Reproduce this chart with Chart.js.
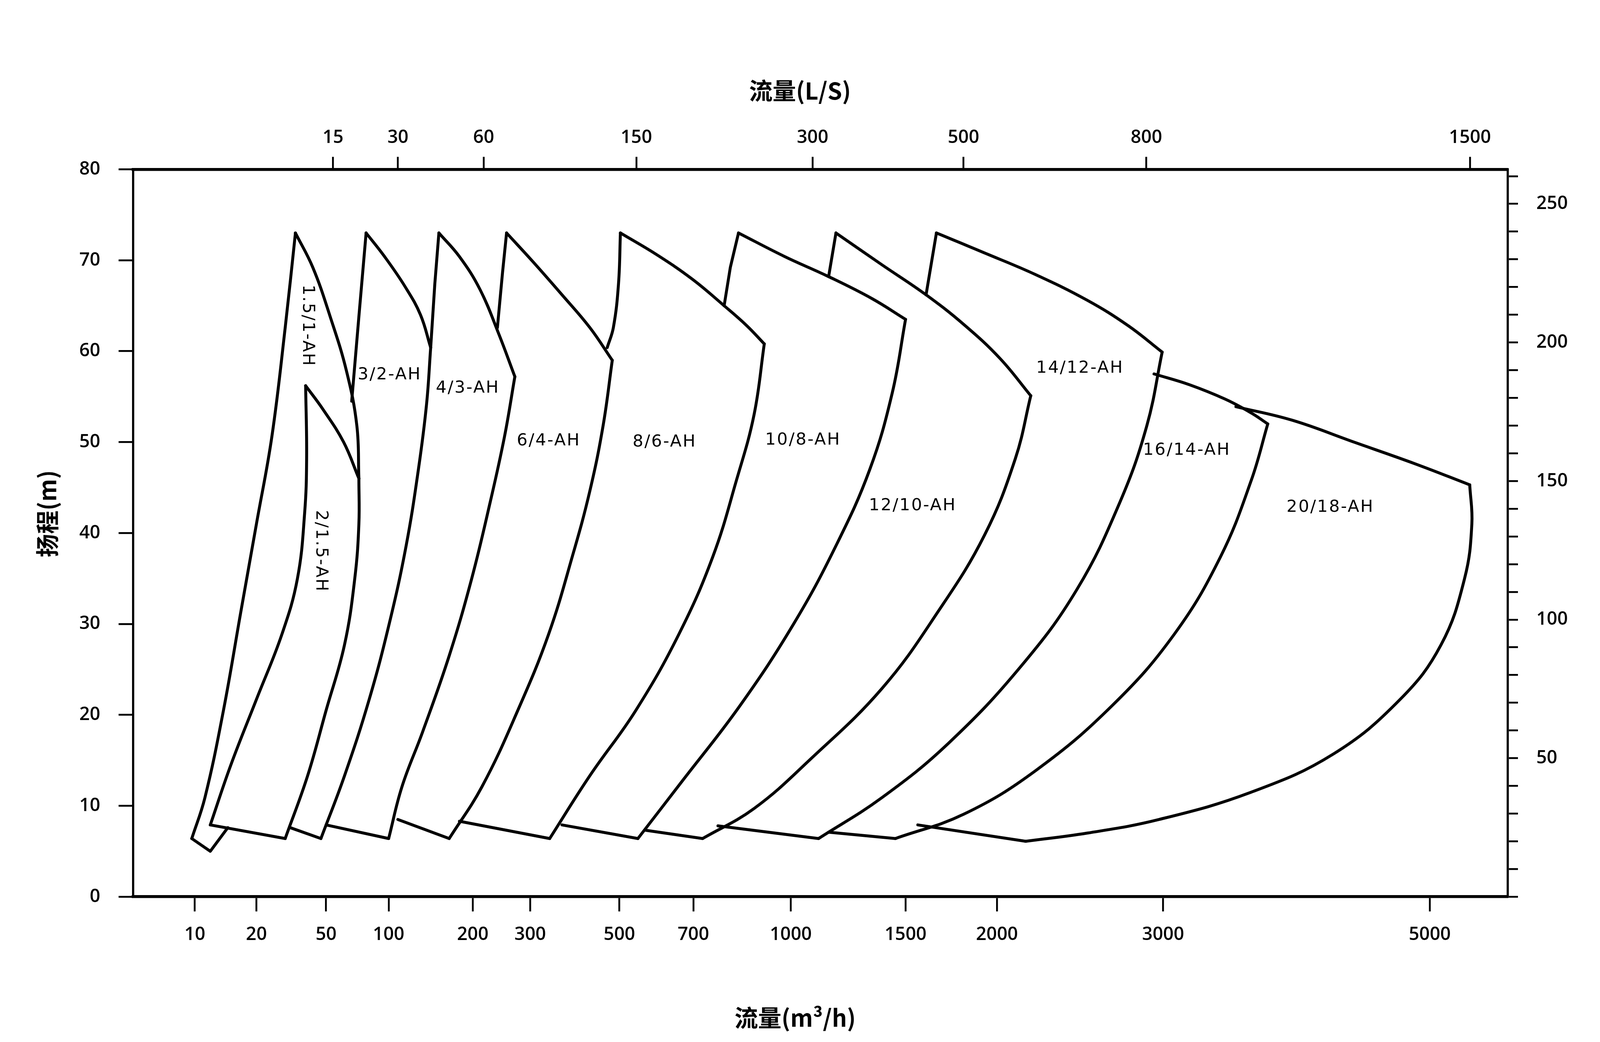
<!DOCTYPE html>
<html><head><meta charset="utf-8">
<script src="https://cdn.jsdelivr.net/npm/chart.js@4/dist/chart.umd.min.js"></script>
<style>html,body{margin:0;padding:0;background:#fff;overflow:hidden}#wrap{position:relative;width:100vw;height:100vh}</style>
</head><body>
<div id="wrap"><canvas id="c"></canvas></div>
<script>
// tick labels
const BOTTOM_TICKS = [10,20,50,100,200,300,500,700,1000,1500,2000,3000,5000]; // m3/h
const TOP_TICKS = [15,30,60,150,300,500,800,1500]; // L/S
const LEFT_TICKS_STEP = 10; // m
const RIGHT_TICKS = [0,10,20,30,40,50,60,70,80,90,100,110,120,130,140,150,160,170,180,190,200,210,220,230,240,250,260];
const RIGHT_LABELS = [50,100,150,200,250];

// curves: [flow m3/h, head m]
const c15_left=[[33.4,73.0],[29.2,62.6],[24.5,50.6],[20,41.0],[16.8,31.4],[13.8,20.5],[11.2,10.9],[9.66,6.4]];
const c15_arc=[[33.4,73],[42,69.2],[52.3,63.8],[62.7,57.8],[70.3,51.8],[71.9,46.0]];
const c15_bottom=[[9.66,6.4],[11.9,5.0],[14.5,7.6]];
const c2_top=[[38.2,56.2],[48,53.6],[60.7,50.0],[71.9,46.0]];
const c2_left=[[38.2,56.2],[38.7,48.2],[37.7,42.2],[34.3,35.0],[28.0,28.9],[20,21.7],[15.0,14.5],[11.9,7.9]];
const c2_bottom=[[11.9,7.9],[29.2,6.4]];
const c2_right=[[71.9,46.0],[71.9,41.0],[68.7,35.0],[61.3,27.7],[50,20.5],[39.2,13.3],[29.2,6.4]];
const c3_lefttop=[[77.9,73.0],[71.9,63.8],[66.4,54.5]];
const c3_arc=[[77.9,73],[95.6,70.4],[114.5,67.1],[130,64.0],[141.4,60.4]];
const c3_bottom=[[31.2,7.6],[46.7,6.4]];
const c3_right=[[141.4,60.4],[136.7,54.2],[127.8,47.0],[115.5,38.6],[100.8,30.2],[80.6,21.7],[61.3,13.3],[46.7,6.4]];
const c4_lefttop=[[151.3,73],[146.3,67.4],[141.4,60.4]];
const c4_arc=[[151.3,73],[179.2,70.4],[210.4,66.8],[239.7,62.0],[269.2,57.2]];
const c4_bottom=[[50,7.9],[100,6.4]];
const c4_right=[[269.2,57.2],[250.2,50.6],[226.2,43.4],[198.3,35.0],[164.7,26.5],[132.2,18.1],[111.6,12.1],[100,6.4]];
const c6_lefttop=[[253.9,73],[246.7,68.6],[238,62.6]];
const c6_arc=[[253.9,73],[305.3,69.8],[359.9,66.2],[422,62.6],[480,59.0]];
const c6_bottom=[[107.9,8.5],[164.7,6.4]];
const c6_right=[[480,59],[455.4,51.8],[422,44.6],[381.7,37.4],[333.5,28.9],[274.9,20.5],[213.4,12.1],[164.7,6.4]];
const c8_lefttop=[[502.3,73],[497.4,67.4],[483,62.6],[466.3,60.4]];
const c8_arc=[[502.3,73],[593,70.6],[697.5,67.9],[783.5,65.0],[851.3,62.8],[907.5,60.8]];
const c8_bottom=[[179.2,8.3],[335.4,6.4]];
const c8_right=[[907.5,60.8],[874.1,53.0],[819.6,45.8],[751.7,37.4],[655.8,28.9],[538.8,20.5],[422,13.3],[335.4,6.4]];
const c10_lefttop=[[825.8,73],[801.4,69.2],[783.5,65.0]];
const c10_arc=[[825.8,73],[978.4,70.4],[1143,68.2],[1331,65.8],[1500,63.5]];
const c10_bottom=[[359.9,7.9],[543.9,6.4]];
const c10_right=[[1500,63.5],[1431,55.4],[1322,47.0],[1173,38.6],[1010,30.0],[830,21.0],[665,12.7],[543.9,6.4]];
const c12_lefttop=[[1173,73],[1143,68.2]];
const c12_arc=[[1173,73],[1380,69.5],[1600,66.2],[1804,62.9],[2015,59.2],[2172,55.1]];
const c12_bottom=[[564.6,7.3],[724.1,6.4]];
const c12_right=[[2172,55.1],[2092,48.2],[1924,39.8],[1663,31.4],[1380,22.9],[1071,15.1],[874.1,9.7],[724.1,6.4]];
const c14_lefttop=[[1653,73],[1600,66.2]];
const c14_arc=[[1653,73],[1924,70.8],[2200,68.4],[2493,65.6],[2755,62.8],[2993,59.9]];
const c14_bottom=[[766,7.8],[1103,6.4]];
const c14_right=[[2993,59.9],[2883,51.8],[2700,43.4],[2431,33.8],[2119,25.3],[1718,16.9],[1380,10.9],[1103,6.4]];
const c16_arc=[[2934,57.5],[3157,56.3],[3382,54.7],[3552,53.2],[3666,52.0]];
const c16_bottom=[[1143,7.1],[1447,6.4]];
const c16_right=[[3666,52],[3552,45.8],[3349,37.4],[3066,28.9],[2654,21.1],[2200,13.9],[1804,9.1],[1447,6.4]];
const c20_arc=[[3449,53.9],[3843,52.4],[4324,50.0],[4865,47.6],[5398,45.3]];
const c20_bottom=[[1559,7.9],[2145,6.1]];
const c20_right=[[5398,45.3],[5420,41.0],[5345,35.0],[5109,27.7],[4724,21.7],[4157,15.7],[3552,11.5],[2971,8.5],[2493,7.0],[2145,6.1]];

const CURVES=[c15_left,c15_arc,c15_bottom,c2_top,c2_left,c2_bottom,c2_right,c3_lefttop,c3_arc,c3_bottom,c3_right,
 c4_lefttop,c4_arc,c4_bottom,c4_right,c6_lefttop,c6_arc,c6_bottom,c6_right,c8_lefttop,c8_arc,c8_bottom,c8_right,
 c10_lefttop,c10_arc,c10_bottom,c10_right,c12_lefttop,c12_arc,c12_bottom,c12_right,c14_lefttop,c14_arc,c14_bottom,c14_right,
 c16_arc,c16_bottom,c16_right,c20_arc,c20_bottom,c20_right];

// model labels
const MODEL_NAMES=['1.5/1-AH','2/1.5-AH','3/2-AH','4/3-AH','6/4-AH','8/6-AH','10/8-AH','12/10-AH','14/12-AH','16/14-AH','20/18-AH'];
const MODEL_FLOW=[39.2,46.7,100.8,191.9,333.5,614,1044,1534,2449,3139,4133];
const MODEL_HEAD=[62.8,38.0,57.4,55.9,50.1,50.0,50.2,43.0,58.1,49.1,42.8];
const MODEL_VERTICAL=[true,true,false,false,false,false,false,false,false,false,false];

// non-uniform flow axis: fraction positions of the printed ticks
const TICK_FRAC=[.0448,.0896,.1403,.1858,.2470,.2888,.3537,.4075,.4784,.5619,.6284,.7493,.9433];
function flowToU(f){
  const T=BOTTOM_TICKS,P=TICK_FRAC,n=T.length;
  let i=0;
  if(f<=T[0]) i=0; else if(f>=T[n-1]) i=n-2; else {while(!(f>=T[i]&&f<=T[i+1])) i++;}
  const t=Math.log(f/T[i])/Math.log(T[i+1]/T[i]);
  return P[i]+t*(P[i+1]-P[i]);
}

const K=()=>window.innerWidth/4361;
const datasets=CURVES.map(c=>({data:c.map(p=>({x:flowToU(p[0]),y:p[1]})),borderColor:'#000',
  borderWidth:8*K(),pointRadius:0,tension:c.length>3?0.4:0,fill:false,clip:false,
  borderCapStyle:'round',borderJoinStyle:'round'}));

const tickFont=()=>({family:'"Open Sans", "DejaVu Sans", sans-serif',size:Math.round(50*K()),weight:'600'});
const grid=(len)=>({drawOnChartArea:false,drawTicks:true,color:'#000',lineWidth:5*K(),tickLength:len*K()});
const border=(w)=>({display:true,color:'#000',width:w*K()});

const labelsPlugin={id:'lbl',afterDraw(ch){
  const ctx=ch.ctx,xs=ch.scales.x,ys=ch.scales.y,W=ch.width,H=ch.height,k=W/4361;
  ctx.save();ctx.fillStyle='#000';ctx.textAlign='center';ctx.textBaseline='middle';
  ctx.font=Math.round(46*k)+'px "DejaVu Sans", sans-serif';
  try{ctx.letterSpacing=Math.round(3*k)+'px';}catch(e){}
  MODEL_NAMES.forEach((n,i)=>{
    const px=xs.getPixelForValue(flowToU(MODEL_FLOW[i])),py=ys.getPixelForValue(MODEL_HEAD[i]);
    ctx.save();ctx.translate(px,py);if(MODEL_VERTICAL[i])ctx.rotate(Math.PI/2);ctx.fillText(n,0,0);ctx.restore();
  });
  try{ctx.letterSpacing='0px';}catch(e){}
  ctx.font='bold '+Math.round(64*k)+'px "Noto Sans CJK SC", sans-serif';
  ctx.fillText('流量(L/S)',W*0.5,H*0.087);
  ctx.fillText('流量(m³/h)',W*0.497,H*0.977);
  ctx.save();ctx.translate(W*0.0295,H*0.493);ctx.rotate(-Math.PI/2);ctx.fillText('扬程(m)',0,0);ctx.restore();
  ctx.restore();
}};

new Chart(document.getElementById('c'),{
  type:'line',
  data:{datasets},
  plugins:[labelsPlugin],
  options:{
    responsive:true,maintainAspectRatio:false,animation:false,
    layout:{padding:0},
    plugins:{legend:{display:false},tooltip:{enabled:false}},
    scales:{
      x:{type:'linear',position:'bottom',min:0,max:1,
        afterBuildTicks:s=>{s.ticks=BOTTOM_TICKS.map(v=>({value:flowToU(v)}));},
        afterFit:s=>{s.height=s.chart.height*0.1394;},
        ticks:{callback:(v,i)=>String(BOTTOM_TICKS[i]),color:'#000',font:tickFont,padding:34*K(),maxRotation:0,autoSkip:false},
        grid:grid(40),border:border(8)},
      x2:{type:'linear',position:'top',min:0,max:1,
        afterBuildTicks:s=>{s.ticks=TOP_TICKS.map(v=>({value:flowToU(v*3.6)}));},
        afterFit:s=>{s.height=s.chart.height*0.1625;},
        ticks:{callback:(v,i)=>String(TOP_TICKS[i]),color:'#000',font:tickFont,padding:22*K(),maxRotation:0,autoSkip:false},
        grid:grid(34),border:border(8)},
      y:{type:'linear',position:'left',min:0,max:80,
        ticks:{stepSize:LEFT_TICKS_STEP,color:'#000',font:tickFont,padding:50*K()},
        afterFit:s=>{s.width=s.chart.width*0.0833;},
        grid:grid(40),border:border(6)},
      y2:{type:'linear',position:'right',min:0,max:80*3.2808,
        afterBuildTicks:s=>{s.ticks=RIGHT_TICKS.map(v=>({value:v}));},
        ticks:{callback:v=>RIGHT_LABELS.includes(v)?String(v):'',color:'#000',font:tickFont,padding:50*K(),autoSkip:false},
        afterFit:s=>{s.width=s.chart.width*0.0577;},
        grid:grid(28),border:border(6)}
    }
  }
});
</script>
</body></html>
